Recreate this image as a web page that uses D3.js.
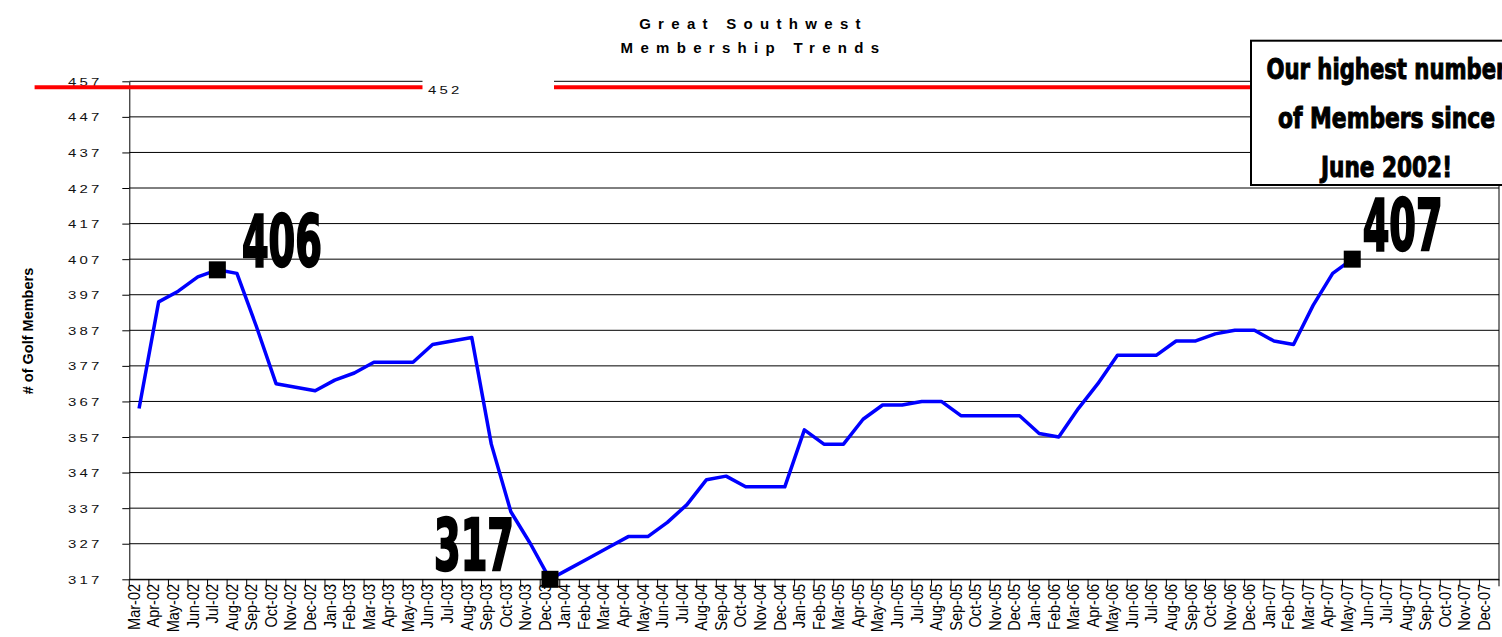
<!doctype html>
<html>
<head>
<meta charset="utf-8">
<script src="https://cdn.jsdelivr.net/npm/d3@7"></script>
<style>
    html, body {
        margin: 0;
        padding: 0;
        background: #fff;
    }
    svg {
        display: block;
        font-family: "Liberation Sans", Arial, sans-serif;
    }
    .heavy {
        font-family: "Liberation Sans Narrow", "DejaVu Sans Condensed", "Liberation Sans", sans-serif;
        font-weight: bold;
    }
</style>
</head>
<body>
<svg id="chart" width="1502" height="637"></svg>
<script>
    var months = ["Mar-02","Apr-02","May-02","Jun-02","Jul-02","Aug-02","Sep-02","Oct-02","Nov-02","Dec-02",
        "Jan-03","Feb-03","Mar-03","Apr-03","May-03","Jun-03","Jul-03","Aug-03","Sep-03","Oct-03","Nov-03","Dec-03",
        "Jan-04","Feb-04","Mar-04","Apr-04","May-04","Jun-04","Jul-04","Aug-04","Sep-04","Oct-04","Nov-04","Dec-04",
        "Jan-05","Feb-05","Mar-05","Apr-05","May-05","Jun-05","Jul-05","Aug-05","Sep-05","Oct-05","Nov-05","Dec-05",
        "Jan-06","Feb-06","Mar-06","Apr-06","May-06","Jun-06","Jul-06","Aug-06","Sep-06","Oct-06","Nov-06","Dec-06",
        "Jan-07","Feb-07","Mar-07","Apr-07","May-07","Jun-07","Jul-07","Aug-07","Sep-07","Oct-07","Nov-07","Dec-07"];

    // members per month, Mar-02 .. May-07
    var members = [365, 395, 398, 402, 404, 403, 388, 372, 371, 370,
        373, 375, 378, 378, 378, 383, 384, 385, 355, 336, 327, 317,
        320, 323, 326, 329, 329, 333, 338, 345, 346, 343, 343, 343,
        359, 355, 355, 362, 366, 366, 367, 367, 363, 363, 363, 363,
        358, 357, 365, 372, 380, 380, 380, 384, 384, 386, 387, 387,
        384, 383, 394, 403, 407];

    var yTicks = [317, 327, 337, 347, 357, 367, 377, 387, 397, 407, 417, 427, 437, 447, 457];

    var calloutIdx = [4, 21, 62];
    var calloutText = ["406", "317", "407"];

    var refValue = 455.3;
    var refLabel = "452";

    var titleLines = ["Great Southwest", "Membership Trends"];
    var noteLines = ["Our highest number", "of Members since", "June 2002!"];
    var yTitle = "# of Golf Members";

    var plotL = 129.3, plotR = 1499, plotT = 81.3, plotB = 579.3;

    var svg = d3.select("#chart");

    var x = d3.scaleBand().domain(months).range([plotL, plotR]).padding(0);
    var y = d3.scaleLinear().domain([317, 457]).range([plotB, plotT]);
    var bw = x.bandwidth();

    // gridlines
    svg.append("g").selectAll("line")
        .data(yTicks)
        .enter().append("line")
        .attr("x1", plotL).attr("x2", plotR)
        .attr("y1", function(d){ return y(d); })
        .attr("y2", function(d){ return y(d); })
        .attr("stroke", "#000").attr("stroke-width", 1);

    // right border
    svg.append("line")
        .attr("x1", plotR).attr("x2", plotR)
        .attr("y1", y(457)).attr("y2", y(317))
        .attr("stroke", "#000");

    // y axis
    var yAxis = svg.append("g")
        .attr("transform", "translate(" + plotL + ",0)")
        .call(d3.axisLeft(y).tickValues(yTicks).tickSize(7).tickSizeOuter(0).tickFormat(""));
    yAxis.select(".domain").attr("stroke", "#000");
    yAxis.selectAll(".tick line").attr("stroke", "#000");

    svg.append("g").selectAll("g")
        .data(yTicks)
        .enter().append("g")
        .attr("transform", function(d){ return "translate(" + (plotL - 30) + "," + y(d) + ") scale(1.3,1)"; })
        .append("text")
        .attr("x", 2.5)
        .attr("dy", "0.4em")
        .attr("text-anchor", "end")
        .style("font-size", "11.5px")
        .style("letter-spacing", "2.5px")
        .attr("fill", "#111")
        .text(function(d){ return d; });

    // x axis
    var xAxis = svg.append("g")
        .attr("transform", "translate(0," + plotB + ")")
        .call(d3.axisBottom(x).tickSize(0).tickSizeOuter(0));
    xAxis.select(".domain").attr("stroke", "#000");
    xAxis.selectAll(".tick text")
        .attr("y", 0)
        .attr("x", -4.7)
        .attr("dy", "0.05em")
        .attr("transform", "scale(1.08,1) rotate(-90)")
        .attr("text-anchor", "end")
        .style("font-size", "14.5px")
        .style("font-family", "'Liberation Sans', Arial, sans-serif")
        .attr("fill", "#000");

    var bounds = months.map(function(m){ return x(m); }).concat([x.range()[1]]);
    svg.append("g").selectAll("line")
        .data(bounds)
        .enter().append("line")
        .attr("x1", function(d){ return d; }).attr("x2", function(d){ return d; })
        .attr("y1", plotB).attr("y2", plotB + 7)
        .attr("stroke", "#000");

    // title
    svg.append("g").selectAll("text")
        .data(titleLines)
        .enter().append("text")
        .attr("x", 753.5)
        .attr("y", function(d, i){ return 29.3 + i * 23.4; })
        .attr("text-anchor", "middle")
        .style("font-size", "15px")
        .style("font-weight", "bold")
        .style("letter-spacing", "7.3px")
        .text(function(d){ return d; });

    // y title
    svg.append("text")
        .attr("transform", "translate(33.3,331) rotate(-90)")
        .attr("text-anchor", "middle")
        .style("font-size", "14.5px")
        .style("font-weight", "bold")
        .text(yTitle);

    // reference line with its label
    svg.append("line")
        .attr("x1", 34.6).attr("x2", plotR)
        .attr("y1", y(refValue)).attr("y2", y(refValue))
        .attr("stroke", "#ff0000").attr("stroke-width", 4);
    svg.append("rect")
        .attr("x", 422.5).attr("y", y(457) - 8)
        .attr("width", 554 - 422.5).attr("height", 24)
        .attr("fill", "#fff");
    svg.append("g")
        .attr("transform", "translate(428," + (y(refValue) + 6.7) + ") scale(1.3,1)")
        .append("text")
        .style("font-size", "11.5px")
        .style("letter-spacing", "2.5px")
        .attr("fill", "#111")
        .text(refLabel);

    // membership line
    var line = d3.line()
        .x(function(d, i){ return x(months[i]) + bw / 2; })
        .y(function(d){ return y(d); });

    svg.append("path")
        .datum(members)
        .attr("d", line)
        .attr("fill", "none")
        .attr("stroke", "#0000ff")
        .attr("stroke-width", 3.5)
        .attr("stroke-linejoin", "round");

    // callout markers + big numbers
    var calloutOffset = [[24.6, -4.3, "start"], [-36, -9.3, "end"], [10.4, -9, "start"]];
    calloutIdx.forEach(function(idx, k){
        var px = x(months[idx]) + bw / 2, py = y(members[idx]);
        svg.append("rect")
            .attr("x", px - 8.5).attr("y", py - 8.5)
            .attr("width", 17).attr("height", 17)
            .attr("fill", "#000");
        var off = calloutOffset[k];
        svg.append("text")
            .attr("class", "heavy")
            .attr("x", px + off[0])
            .attr("y", py + off[1])
            .attr("text-anchor", off[2])
            .attr("textLength", 80)
            .attr("lengthAdjust", "spacingAndGlyphs")
            .style("font-size", "71px")
            .attr("fill", "#000")
            .attr("stroke", "#000")
            .attr("stroke-width", 2.4)
            .text(calloutText[k]);
    });

    // note box
    svg.append("rect")
        .attr("x", 1251).attr("y", 40.7)
        .attr("width", 300).attr("height", 144.3)
        .attr("fill", "#fff")
        .attr("stroke", "#000")
        .attr("stroke-width", 2);

    var noteLen = [240, 217, 131];
    svg.append("g").selectAll("text")
        .data(noteLines)
        .enter().append("text")
        .attr("class", "heavy")
        .attr("x", 1386.5)
        .attr("y", function(d, i){ return 79 + i * 48.8; })
        .attr("text-anchor", "middle")
        .attr("textLength", function(d, i){ return noteLen[i]; })
        .attr("lengthAdjust", "spacingAndGlyphs")
        .style("font-size", "29px")
        .attr("stroke", "#000")
        .attr("stroke-width", 1)
        .text(function(d){ return d; });
</script>
</body>
</html>
